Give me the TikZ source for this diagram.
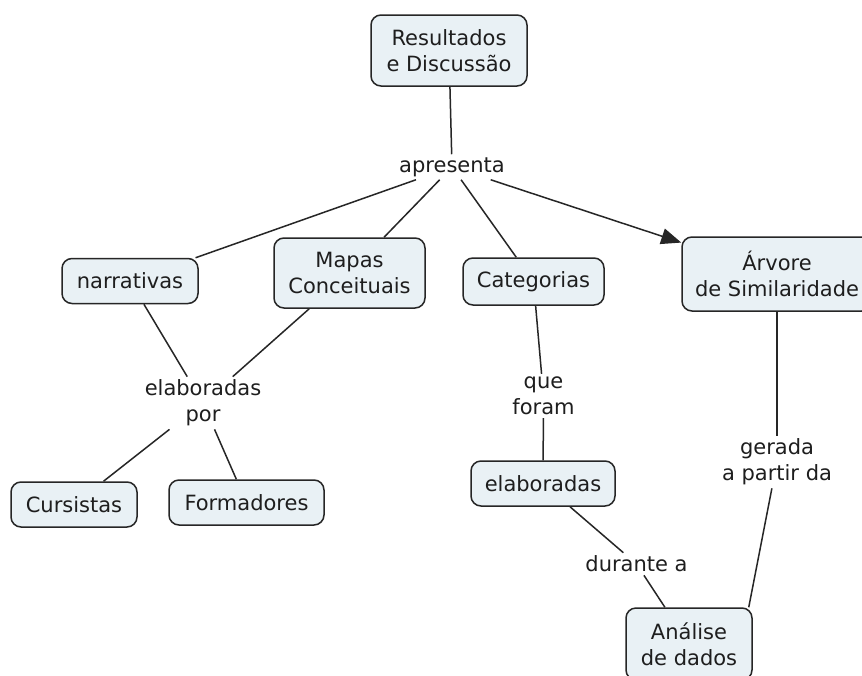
\documentclass[tikz,border=0pt]{standalone}
\usepackage{fontspec}
\setmainfont{DejaVu Sans}
\usetikzlibrary{arrows.meta}
\definecolor{boxfill}{RGB}{233,241,245}
\definecolor{edgecol}{RGB}{38,38,38}
\definecolor{textcol}{RGB}{30,30,30}
\begin{document}
\begin{tikzpicture}[x=1pt,y=-1pt,
  cmtext/.style={font=\fontsize{21}{26}\selectfont, text=textcol},
  concept/.style={cmtext, draw=edgecol, line width=1.5pt, fill=boxfill,
                  rounded corners=10pt, align=center, inner sep=0pt},
  linkphrase/.style={cmtext, align=center, inner sep=3pt},
  conn/.style={draw=edgecol, line width=1.5pt},
  arrowconn/.style={conn, -{Triangle[length=20pt,width=16pt]}}]
\useasboundingbox (0,0) rectangle (862,675);
\fill[white] (0,0) rectangle (862,675);

% concepts
\node[concept, minimum width=156pt, minimum height=71pt] (res) at (449,50.5) {Resultados\\e Discussão};
\node[concept, minimum width=136pt, minimum height=45pt] (nar) at (130,281) {narrativas};
\node[concept, minimum width=151pt, minimum height=70pt] (map) at (349.5,273) {Mapas\\Conceituais};
\node[concept, minimum width=141pt, minimum height=47pt] (cat) at (533.5,281.5) {Categorias};
\node[concept, minimum width=190pt, minimum height=74pt] (arv) at (777,274) {Árvore\\de Similaridade};
\node[concept, minimum width=126pt, minimum height=45pt] (cur) at (74,504.5) {Cursistas};
\node[concept, minimum width=155pt, minimum height=45pt] (for) at (246.5,502.5) {Formadores};
\node[concept, minimum width=144pt, minimum height=45pt] (ela) at (543,483.5) {elaboradas};
\node[concept, minimum width=126pt, minimum height=72pt] (ana) at (689,644) {Análise\\de dados};

% linking phrases
\node[linkphrase] (apr) at (452,167) {apresenta};
\node[linkphrase] (elp) at (203,403) {elaboradas\\por};
\node[linkphrase] (que) at (543.5,396) {que\\foram};
\node[linkphrase] (dur) at (636.5,564) {durante a};
\node[linkphrase] (ger) at (777,462) {gerada\\a partir da};

% connectors
\draw[conn] (res) -- (apr);
\draw[conn] (apr) -- (nar);
\draw[conn] (apr) -- (map);
\draw[conn] (apr) -- (cat);
\draw[arrowconn] (apr) -- (arv);
\draw[conn] (nar) -- (elp);
\draw[conn] (map) -- (elp);
\draw[conn] (elp) -- (cur);
\draw[conn] (elp) -- (for);
\draw[conn] (cat) -- (que);
\draw[conn] (que) -- (ela);
\draw[conn] (ela) -- (dur);
\draw[conn] (dur) -- (ana);
\draw[conn] (arv) -- (ger);
\draw[conn] (ger) -- ([xshift=-4pt]ana.north east);
\end{tikzpicture}
\end{document}
